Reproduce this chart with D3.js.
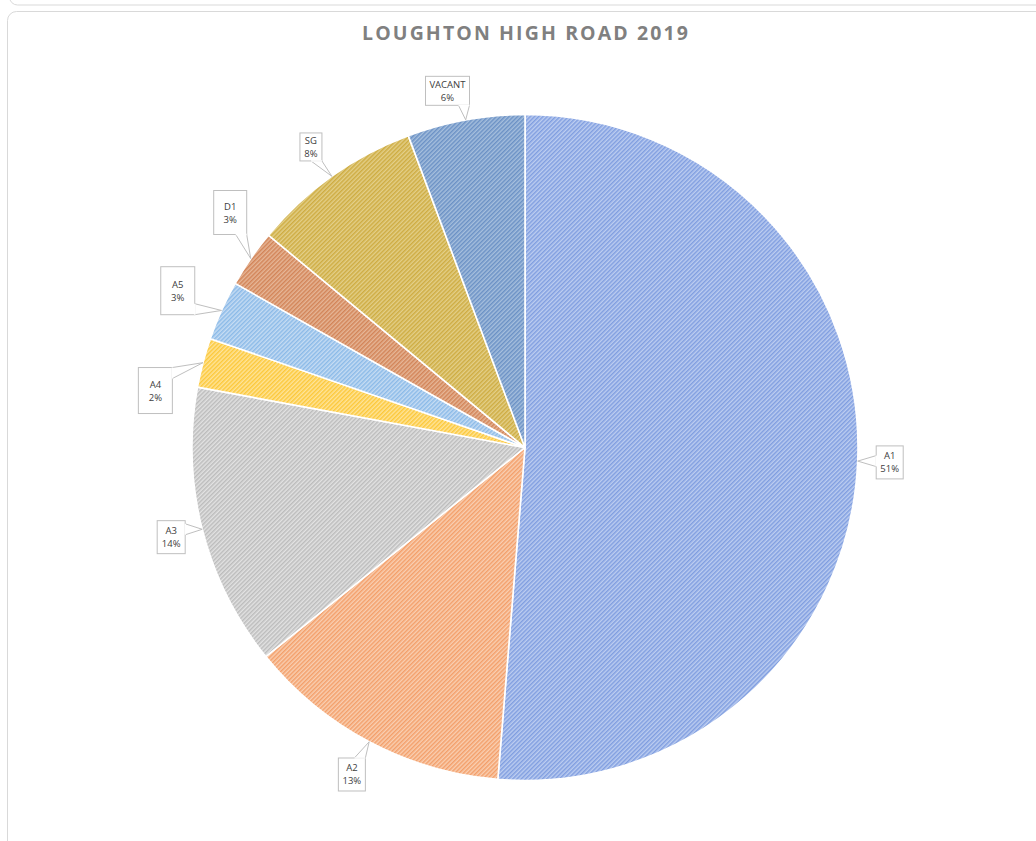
<!DOCTYPE html>
<html>
<head>
<meta charset="utf-8">
<script src="https://cdn.jsdelivr.net/npm/d3@7"></script>
<style>
  html, body { margin: 0; padding: 0; background: #ffffff; }
  svg { display: block; }
</style>
</head>
<body>
<svg id="chart" width="1036" height="841"></svg>
<script>
// ---- data ----
const categories = ["A1", "A2", "A3", "A4", "A5", "D1", "SG", "VACANT"];
const values = [51.3, 12.9, 13.7, 2.4, 2.9, 2.8, 8.3, 5.7];
const titleText = "LOUGHTON HIGH ROAD 2019";

// ---- styling / layout ----
const stripeColors = ["#809ee0", "#f39f6a", "#bcbcbc", "#fcc83a", "#8bbae8", "#d28458", "#ceac42", "#6b91c5"];
const backColors   = ["#bccdf0", "#f9cfb2", "#e2e2e2", "#fee49a", "#c6dcf3", "#e6b697", "#e3cf88", "#a6bfdd"];
const labelAngleNudge = [0, 0, 0, -6, 0, 4, 0, -2];
const labelDist = [365, 370, 365, 374, 381, 377, 369, 365];
const boxW = [27, 27, 28, 34, 34, 33, 22, 44];
const boxH = [33, 33, 33, 46, 48, 44, 28, 29];

const cx = 525, cy = 447.5, R = 333;

const svg = d3.select("#chart");

// frames
svg.append("rect").attr("x", 9.5).attr("y", -60).attr("width", 1100).attr("height", 65)
  .attr("rx", 8).attr("fill", "none").attr("stroke", "#d9d9d9").attr("stroke-width", 1);
svg.append("rect").attr("x", 7.5).attr("y", 11.5).attr("width", 1100).attr("height", 870)
  .attr("rx", 9).attr("fill", "#ffffff").attr("stroke", "#d9d9d9").attr("stroke-width", 1);

// patterns
const defs = svg.append("defs");
stripeColors.forEach((c, i) => {
  const p = defs.append("pattern").attr("id", "pat" + i)
    .attr("patternUnits", "userSpaceOnUse").attr("width", 3).attr("height", 3)
    .attr("patternTransform", "rotate(45)");
  p.append("rect").attr("width", 3).attr("height", 3).attr("fill", backColors[i]);
  p.append("rect").attr("width", 1.5).attr("height", 3).attr("fill", c);
});

// title
svg.append("text")
  .attr("x", cx).attr("y", 40)
  .attr("text-anchor", "middle")
  .attr("font-family", "'Open Sans', 'DejaVu Sans', sans-serif")
  .attr("font-weight", "bold")
  .attr("font-size", 19.5)
  .attr("fill", "#808080")
  .attr("textLength", 326)
  .attr("lengthAdjust", "spacing")
  .text(titleText);

// pie
const total = d3.sum(values);
const pie = d3.pie().sort(null).value(d => d).startAngle(0).endAngle(2 * Math.PI);
const arcs = pie(values);
const arc = d3.arc().innerRadius(0).outerRadius(R);

const g = svg.append("g").attr("transform", `translate(${cx},${cy})`);
g.selectAll("path.slice").data(arcs).enter().append("path")
  .attr("class", "slice")
  .attr("d", arc)
  .attr("fill", (d, i) => `url(#pat${i})`)
  .attr("stroke", "#ffffff")
  .attr("stroke-width", 1.6)
  .attr("stroke-linejoin", "round");

// labels with callouts
const fmt = v => Math.round(v / total * 100) + "%";
const lg = svg.append("g");
arcs.forEach((d, i) => {
  const mid = (d.startAngle + d.endAngle) / 2;
  const tip = [cx + R * Math.sin(mid), cy - R * Math.cos(mid)];
  const la = mid + labelAngleNudge[i] * Math.PI / 180;
  const bc = [cx + labelDist[i] * Math.sin(la), cy - labelDist[i] * Math.cos(la)];
  const w = boxW[i], h = boxH[i];
  const x0 = bc[0] - w / 2, x1 = bc[0] + w / 2, y0 = bc[1] - h / 2, y1 = bc[1] + h / 2;
  const dx = tip[0] - bc[0], dy = tip[1] - bc[1];
  let b1, b2;
  const L = 11;
  if (Math.abs(dx) / w > Math.abs(dy) / h) {
    const sx = dx > 0 ? x1 : x0;
    let yy = Math.max(y0, Math.min(y1, tip[1]));
    let a = yy - L / 2, b = yy + L / 2;
    if (a < y0) { a = y0; b = y0 + L; }
    if (b > y1) { b = y1; a = y1 - L; }
    b1 = [sx, a]; b2 = [sx, b];
  } else {
    const sy = dy > 0 ? y1 : y0;
    let xx = Math.max(x0, Math.min(x1, tip[0]));
    let a = xx - L / 2, b = xx + L / 2;
    if (a < x0) { a = x0; b = x0 + L; }
    if (b > x1) { b = x1; a = x1 - L; }
    b1 = [a, sy]; b2 = [b, sy];
  }
  const cg = lg.append("g");
  cg.append("rect").attr("x", x0).attr("y", y0).attr("width", w).attr("height", h)
    .attr("fill", "#ffffff").attr("stroke", "#bfbfbf").attr("stroke-width", 1);
  cg.append("path").attr("d", `M${b1[0]},${b1[1]}L${tip[0]},${tip[1]}L${b2[0]},${b2[1]}Z`)
    .attr("fill", "#ffffff").attr("stroke", "#bfbfbf").attr("stroke-width", 1);
  cg.append("line").attr("x1", b1[0]).attr("y1", b1[1]).attr("x2", b2[0]).attr("y2", b2[1])
    .attr("stroke", "#ffffff").attr("stroke-width", 1.6);
  const t = cg.append("text")
    .attr("text-anchor", "middle")
    .attr("font-family", "'Open Sans', 'DejaVu Sans', sans-serif")
    .attr("font-size", 9.5)
    .attr("fill", "#404040");
  t.append("tspan").attr("x", bc[0]).attr("y", bc[1] - 3).text(categories[i]);
  t.append("tspan").attr("x", bc[0]).attr("y", bc[1] + 10).text(fmt(values[i]));
});
</script>
</body>
</html>
